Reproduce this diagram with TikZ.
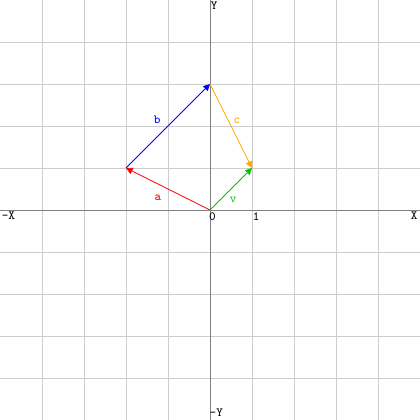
\documentclass[tikz,border=0pt]{standalone}
\usetikzlibrary{arrows.meta}
\definecolor{gridgray}{RGB}{205,205,205}
\definecolor{axisgray}{RGB}{128,128,128}
\definecolor{vred}{RGB}{255,0,0}
\definecolor{vblue}{RGB}{0,0,255}
\definecolor{vorange}{RGB}{255,165,0}
\definecolor{vgreen}{RGB}{0,200,0}
\tikzset{
  gridline/.style={draw=gridgray, line width=0.5pt},
  axisline/.style={draw=axisgray, line width=0.6pt},
  vec/.style={line width=0.5pt, -{Triangle[length=4.5pt,width=4.5pt]}},
  lbl/.style={font=\ttfamily\fontsize{8.5}{9}\selectfont, inner sep=0pt},
}
\begin{document}
\begin{tikzpicture}[x=1cm,y=1cm]
\fill[white] (-5,-5) rectangle (5,5);
\useasboundingbox (-5,-5) rectangle (5,5);
\foreach \i in {-4,-3,-2,-1,1,2,3,4} {
  \draw[gridline] (\i,-5) -- (\i,5);
  \draw[gridline] (-5,\i) -- (5,\i);
}
\draw[axisline] (-5,0) -- (5,0);
\draw[axisline] (0,-5) -- (0,5);
\coordinate (O) at (0,0);
\coordinate (A) at (-2,1);
\coordinate (B) at (0,3);
\coordinate (C) at (1,1);
\draw[vec, vred] (O) -- (A);
\draw[vec, vblue] (A) -- (B);
\draw[vec, vorange] (B) -- (C);
\draw[vec, vgreen] (O) -- (C);
\node[lbl, text=vred] (la) at (-1.24,0.29) {a};
\node[lbl, text=vblue] (lb) at (-1.26,2.14) {b};
\node[lbl, text=vorange] (lc) at (0.64,2.12) {c};
\node[lbl, text=vgreen] (lv) at (0.55,0.24) {v};
\node[lbl] (l0) at (0.06,-0.16) {0};
\node[lbl] (l1) at (1.1,-0.16) {1};
\node[lbl] (lx) at (4.86,-0.14) {X};
\node[lbl] (lmx) at (-4.8,-0.14) {-X};
\node[lbl] (ly) at (0.1,4.86) {Y};
\node[lbl] (lmy) at (0.15,-4.83) {-Y};
\end{tikzpicture}
\end{document}
